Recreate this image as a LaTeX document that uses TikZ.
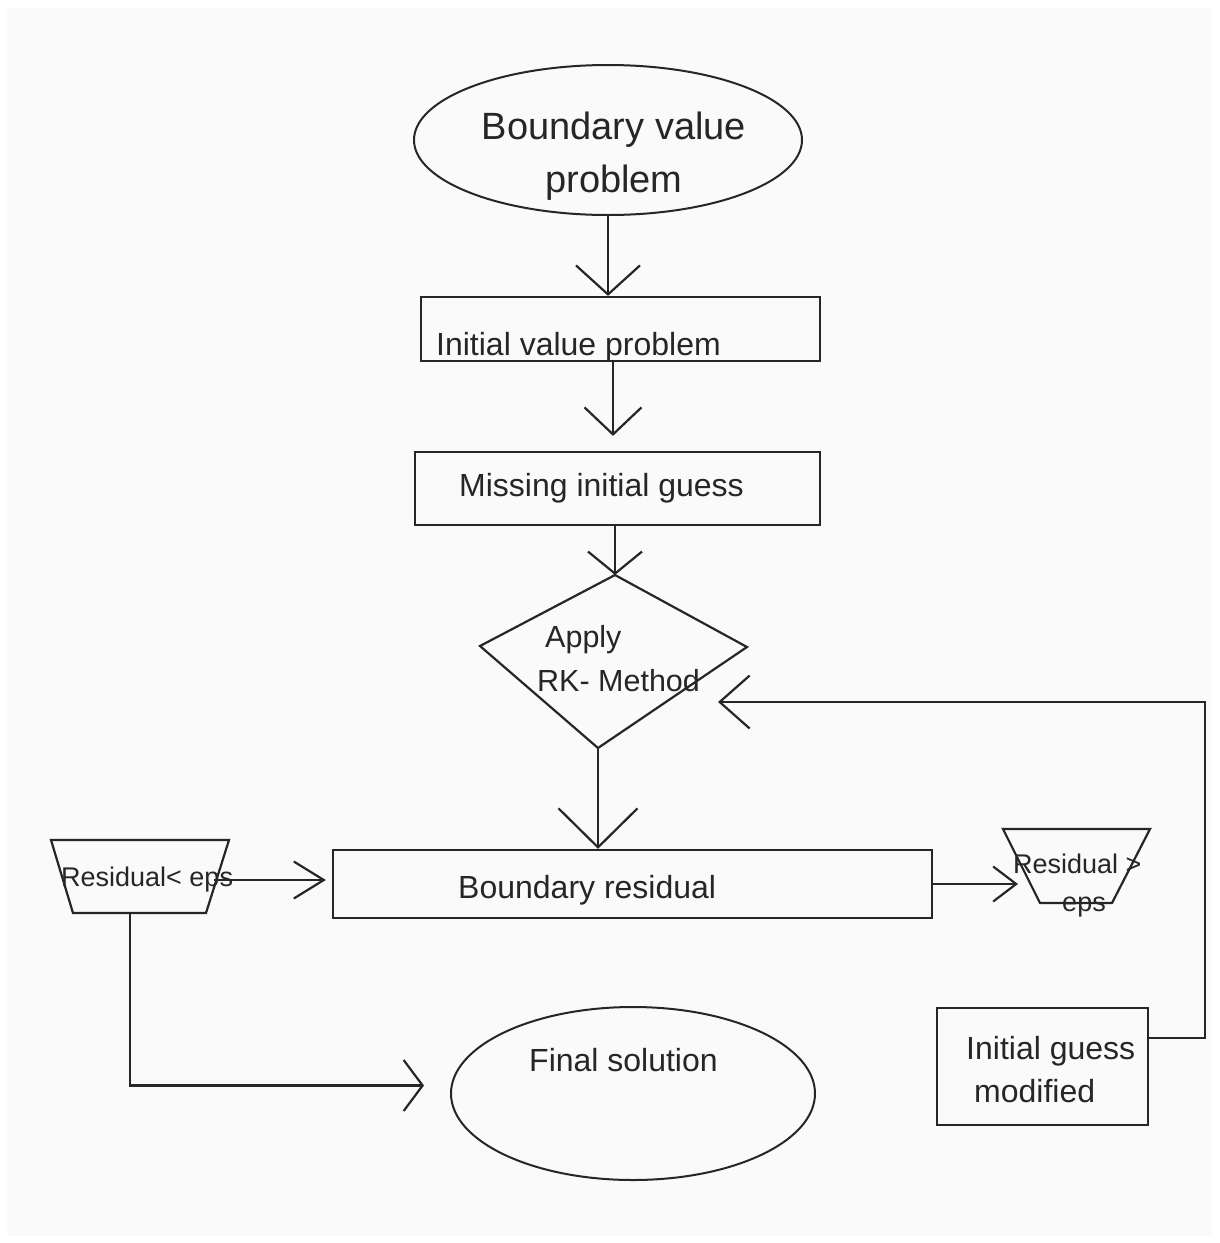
\documentclass[tikz,border=0pt]{standalone}
\usepackage{fontspec}
\setmainfont{Liberation Sans}
\usetikzlibrary{arrows.meta,shapes.geometric,calc}
\definecolor{ink}{HTML}{262626}
\definecolor{paper}{HTML}{FAFAFA}
\newcommand\fsA{\fontsize{38}{44}\selectfont}
\newcommand\fsB{\fontsize{32}{38}\selectfont}
\newcommand\fsC{\fontsize{30.5}{36}\selectfont}
\newcommand\fsD{\fontsize{27}{32}\selectfont}
\begin{document}
\begin{tikzpicture}[x=1pt,y=-1pt,
  box/.style={draw=ink,line width=2.2pt,rectangle,inner sep=0pt},
  oval/.style={draw=ink,line width=2pt,ellipse,inner sep=0pt},
  txt/.style={text=ink,inner sep=0pt,anchor=base west},
  ctxt/.style={text=ink,inner sep=0pt,anchor=base},
  conn/.style={draw=ink,line width=2.2pt},
  outline/.style={draw=ink,line width=2.2pt,line join=miter},
  vhead/.style 2 args={-{Straight Barb[length=#1pt,width=#2pt]}}]
\useasboundingbox (0,0) rectangle (1219,1243);
\fill[white] (0,0) rectangle (1219,1243);
\fill[paper] (7,8) rectangle (1212,1236);

% shapes
\node[oval,minimum width=388pt,minimum height=150pt] (bvp) at (608,140) {};
\node[box,minimum width=399pt,minimum height=64pt] (ivp) at (620.5,329) {};
\node[box,minimum width=405pt,minimum height=73pt] (mig) at (617.5,488.5) {};
\node[box,minimum width=599pt,minimum height=68pt] (bres) at (632.5,884) {};
\node[box,minimum width=211pt,minimum height=117pt] (igm) at (1042.5,1066.5) {};
\node[oval,minimum width=364pt,minimum height=173pt] (fin) at (633,1093.5) {};

% diamond
\coordinate (rkT) at (615,575);
\coordinate (rkR) at (747,647);
\coordinate (rkB) at (598,748);
\coordinate (rkL) at (480,646);
\draw[outline] (rkT) -- (rkR) -- (rkB) -- (rkL) -- cycle;

% left trapezoid
\coordinate (lTL) at (51,840);
\coordinate (lTR) at (229,840);
\coordinate (lBR) at (206,913);
\coordinate (lBL) at (73,913);
\draw[outline] (lTL) -- (lTR) -- (lBR) -- (lBL) -- cycle;
\coordinate (lresE) at (214,880);
\coordinate (lresB) at (130,913);

% right trapezoid
\coordinate (rTL) at (1003,829);
\coordinate (rTR) at (1150,829);
\coordinate (rBR) at (1112,903);
\coordinate (rBL) at (1040,903);
\draw[outline] (rTL) -- (rTR) -- (rBR) -- (rBL) -- cycle;

% texts
\node[ctxt,font=\fsA] (t1) at (614,139) {Boundary value};
\node[ctxt,font=\fsA] (t2) at (614,192) {problem};
\node[txt,font=\fsB] (t3) at (436,355) {Initial value problem};
\node[txt,font=\fsB] (t4) at (459,496) {Missing initial guess};
\node[txt,font=\fsC] (t5) at (545,647) {Apply};
\node[txt,font=\fsC] (t6) at (537,691) {RK- Method};
\node[txt,font=\fsB] (t7) at (458,898) {Boundary residual};
\node[txt,font=\fsD] (t8) at (61,886) {Residual< eps};
\node[txt,font=\fsD] (t9) at (1013,873) {Residual >};
\node[ctxt,font=\fsD] (t10) at (1084,911) {eps};
\node[txt,font=\fsB] (t11) at (529,1071) {Final solution};
\node[txt,font=\fsB] (t12) at (966,1059) {Initial guess};
\node[txt,font=\fsB] (t13) at (974,1102) {modified};

% connectors
\coordinate (rkIn) at (718,702);
\coordinate (loopR) at (1205,702);
\draw[conn,vhead={29}{64}] (bvp.south) -- (bvp.south |- ivp.north);
\draw[conn,vhead={27}{57},shorten >=15pt] ([xshift=-7.5pt]ivp.south) -- ([xshift=-7.5pt]ivp.south |- mig.north);
\draw[conn,vhead={22}{54}] (rkT |- mig.south) -- (rkT);
\draw[conn,vhead={39}{79}] (rkB) -- (rkB |- bres.north);
\draw[conn,vhead={30}{37},shorten >=6pt] (lresE) -- (lresE -| bres.west);
\draw[conn,vhead={19}{51},shorten >=26pt] (lresB) |- ($(fin.west)+(0,-8)$);
\draw[conn,vhead={23}{35},shorten >=-15pt] (bres.east) -- (bres.east -| rTL);
\draw[conn,vhead={30}{53}] ([yshift=28.5pt]igm.east) -| (loopR) -- (rkIn);
\end{tikzpicture}
\end{document}
